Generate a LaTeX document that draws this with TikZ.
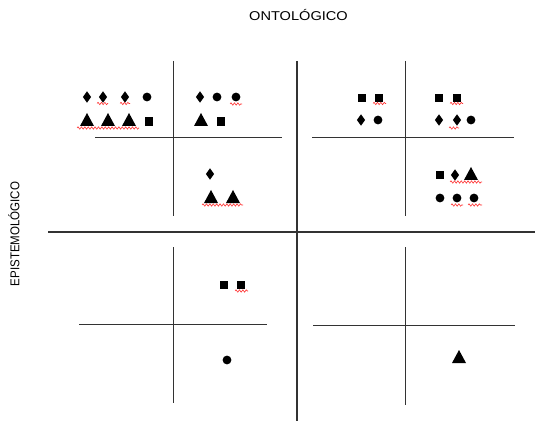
\documentclass[tikz,border=0pt]{standalone}
\usepackage{fontspec}
\setmainfont{Liberation Sans}
\usetikzlibrary{decorations.pathmorphing}
\tikzset{
  axis/.style={line width=1.1pt, black!80},
  grid/.style={line width=1pt, black!80},
  sym/.style={fill=black},
  squig/.style={draw=red!80, line width=0.6pt, decorate,
    decoration={snake, segment length=3.4pt, amplitude=1.2pt}},
  lbl/.style={font=\fontsize{12.8}{14}\selectfont, text=black, inner sep=0pt}
}
\newcommand\Dia[2]{\fill[sym,shift={(#1,#2)}] (0,-5.7) -- (4.1,0) -- (0,5.7) -- (-4.1,0) -- cycle;}
\newcommand\Cir[2]{\fill[sym] (#1,#2) circle (4.4pt);}
\newcommand\Sqr[2]{\fill[sym,shift={(#1,#2)}] (-4.1,-4.1) rectangle (4.1,4.1);}
\newcommand\Tri[2]{\fill[sym,shift={(#1,#2)}] (-7,6) -- (7,6) -- (0,-7) -- cycle;}
\newcommand\Wav[3]{\draw[squig] (#1,#3) -- (#2,#3);}
\begin{document}
\begin{tikzpicture}[x=1pt,y=-1pt]
\useasboundingbox (0,0) rectangle (535,422);
% labels
\node[lbl] (onto) at (298.5,15) {\scalebox{1.14}[1]{ONTOLÓGICO}};
\node[lbl, rotate=90] (epis) at (14,234) {\scalebox{0.9}[1]{EPISTEMOLÓGICO}};
% main axes
\draw[axis] (297,61) -- (297,421);
\draw[axis] (48,232) -- (535,232);
% top-left quadrant
\draw[grid] (173,61) -- (173,216);
\draw[grid] (95,138) -- (282,138);
% top-right quadrant
\draw[grid] (405,61) -- (405,216);
\draw[grid] (312,138) -- (514,138);
% bottom-left quadrant
\draw[grid] (173,247) -- (173,403);
\draw[grid] (79,324) -- (267,324);
% bottom-right quadrant
\draw[grid] (405,247) -- (405,405);
\draw[grid] (313,325) -- (515,325);
% TL - left cell
\Dia{87}{97}\Dia{103}{97}\Dia{125}{97}\Cir{147}{97}
\Tri{87}{120}\Tri{108}{120}\Tri{129}{120}\Sqr{149}{121.5}
\Wav{97}{108}{103.5}\Wav{120}{130}{103.5}\Wav{77}{139}{128}
% TL - right cell
\Dia{200}{97}\Cir{217}{97}\Cir{236}{97}
\Tri{201}{120}\Sqr{221}{121.5}
\Wav{230}{242}{104}
% TL - bottom cell
\Dia{210}{174}
\Tri{211}{197}\Tri{233}{197}
\Wav{202}{243}{205}
% TR - left cell
\Sqr{362}{98}\Sqr{379}{98}
\Dia{361}{120}\Cir{378}{120}
\Wav{373}{386}{103.5}
% TR - right cell
\Sqr{439}{98}\Sqr{457}{98}
\Dia{439}{120}\Dia{457}{120}\Cir{471}{120}
\Wav{450}{463}{103.5}\Wav{449}{459}{128}
% TR - bottom cell
\Sqr{440}{175}\Dia{455}{175}\Tri{471}{174}
\Cir{440}{198}\Cir{457}{198}\Cir{474}{198}
\Wav{450}{482}{182}\Wav{451}{463}{205}\Wav{468}{482}{205}
% BL
\Sqr{224}{285}\Sqr{241}{285}
\Wav{235}{248}{291}
\Cir{227}{360}
% BR
\Tri{459}{357}
\end{tikzpicture}
\end{document}
